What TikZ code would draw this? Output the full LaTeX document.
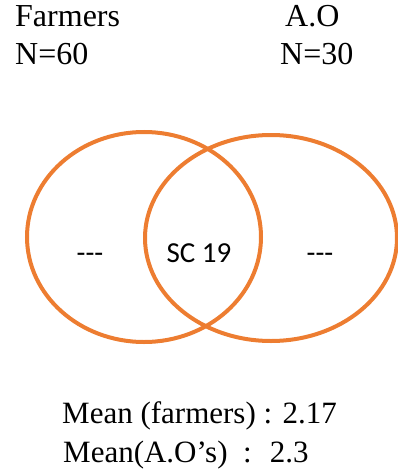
\documentclass[tikz,border=0pt]{standalone}
\usepackage{fontspec}
\setmainfont{Liberation Serif}
\newfontfamily\calibfont{Carlito}
\usetikzlibrary{positioning}
\definecolor{vennorange}{RGB}{237,125,49}

\begin{document}
\begin{tikzpicture}[x=1pt, y=-1pt,
    venn/.style={draw=vennorange, line width=4pt},
    head/.style={anchor=base west, inner sep=0pt, font=\fontsize{32}{35}\selectfont},
    mean/.style={anchor=base west, inner sep=0pt, font=\fontsize{31}{34}\selectfont},
    inside/.style={anchor=base, inner sep=0pt, font=\calibfont\fontsize{29}{32}\selectfont}]
    \useasboundingbox (0,0) rectangle (398,476);
    % Group headings
    \node[head] (farm) at (15,27) {Farmers};
    \node[head] (farmN) at (15,65) {N=60};
    \node[head] (ao) at (285,27) {A.O};
    \node[head] (aoN) at (280,65) {N=30};
    % Venn circles
    \draw[venn] (144,237) ellipse [x radius=117, y radius=105];
    \draw[venn] (271,238) ellipse [x radius=126, y radius=103];
    % Region labels
    \node[inside] (onlyfarm) at (90,262) {---};
    \node[inside] (common) at (199,262) {SC 19};
    \node[inside] (onlyao) at (320,262) {---};
    % Means
    \node[mean] (meanfarm) at (62,423) {Mean (farmers) : 2.17};
    \node[mean] (meanao) at (63,462) {Mean(A.O’s)~ : ~2.3};
\end{tikzpicture}
\end{document}
